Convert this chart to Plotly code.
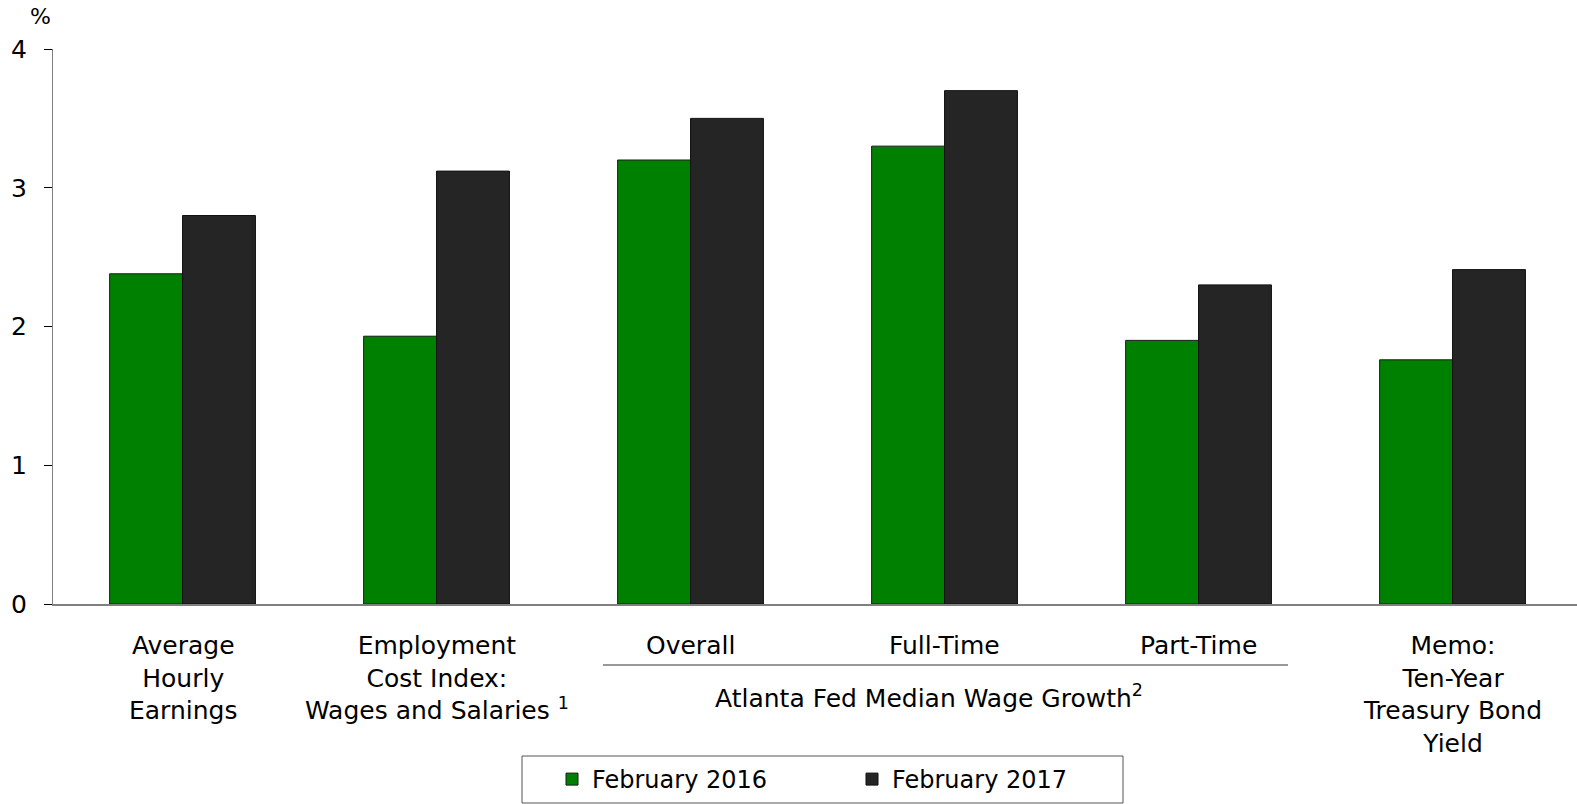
import plotly.graph_objects as go

# Category positions and labels drawn beneath the bars
categories = ["Average Hourly Earnings", "Employment Cost Index", "Overall",
              "Full-Time", "Part-Time", "Ten-Year Treasury Bond Yield"]
category_labels = ["Average<br>Hourly<br>Earnings",
                   "Employment<br>Cost Index:<br>Wages and Salaries <sup>1</sup>",
                   "Overall", "Full-Time", "Part-Time",
                   "Memo:<br>Ten-Year<br>Treasury Bond<br>Yield"]

# Year-over-year growth, percent
feb_2016 = [2.38, 1.93, 3.20, 3.30, 1.90, 1.76]
feb_2017 = [2.80, 3.12, 3.50, 3.70, 2.30, 2.41]

y_ticks = [0, 1, 2, 3, 4]

FONT = "DejaVu Sans"
W, H = 1577, 804
L, R, T, B = 53, 0, 49, 200
plot_h = H - T - B
plot_w = W - L - R
axis_y = T + plot_h  # pixel row of the zero line
X_RANGE = [-0.51, 5.49]


def px_x(px):
    """Horizontal pixel -> paper fraction."""
    return (px - L) / plot_w


def px_y(py):
    """Vertical pixel (from top) -> paper fraction."""
    return (axis_y - py) / plot_h


def px_cat(px):
    """Horizontal pixel -> category-axis coordinate."""
    return (px - L) / plot_w * (X_RANGE[1] - X_RANGE[0]) + X_RANGE[0]


fig = go.Figure()
fig.add_trace(go.Bar(x=categories, y=feb_2016, name="February 2016",
                     marker=dict(color="#008000", line=dict(color="#1a1a1a", width=1))))
fig.add_trace(go.Bar(x=categories, y=feb_2017, name="February 2017",
                     marker=dict(color="#252525", line=dict(color="#111111", width=1))))

fig.update_layout(
    width=W, height=H,
    margin=dict(l=L, r=R, t=T, b=B, pad=0, autoexpand=False),
    paper_bgcolor="white", plot_bgcolor="white",
    barmode="group", bargap=0.426, bargroupgap=0,
    font=dict(family=FONT, size=24, color="black"),
    showlegend=True,
    legend=dict(orientation="h", xref="container", x=552 / W, xanchor="left",
                yref="container", y=(H - 757) / H, yanchor="top",
                borderwidth=0, bgcolor="rgba(0,0,0,0)",
                font=dict(family=FONT, size=24), entrywidth=255,
                traceorder="normal"),
)

fig.update_xaxes(showticklabels=False, ticks="", showgrid=False,
                 showline=True, linecolor="#808080", linewidth=2,
                 range=X_RANGE)
fig.update_yaxes(range=[0, 4], tickvals=y_ticks, ticks="outside", ticklen=8,
                 tickcolor="black", showgrid=False, zeroline=False,
                 showline=True, linecolor="#808080", linewidth=1,
                 tickfont=dict(family=FONT, size=25), ticklabelstandoff=12)

# Legend frame
fig.add_shape(type="rect", xref="paper", yref="paper",
              x0=px_x(522), x1=px_x(1123), y0=px_y(756), y1=px_y(803),
              line=dict(color="#555555", width=1), fillcolor="rgba(0,0,0,0)")

# Category labels
for cat, lab in zip(categories, category_labels):
    fig.add_annotation(x=cat, xref="x", y=0, yref="paper", yanchor="top",
                       yshift=-25, text=lab, showarrow=False,
                       font=dict(family=FONT, size=25), align="center")

# Bracket for the Atlanta Fed group
fig.add_shape(type="line", xref="x", yref="paper", x0=px_cat(603), x1=px_cat(1288),
              y0=px_y(665), y1=px_y(665), line=dict(color="#333333", width=1))
fig.add_annotation(x=px_cat(929), xref="x", y=px_y(678), yref="paper", yanchor="top",
                   text="Atlanta Fed Median Wage Growth<sup>2</sup>", showarrow=False,
                   font=dict(family=FONT, size=25))

# Unit label
fig.add_annotation(xref="paper", x=px_x(40), xanchor="center",
                   y=1, yref="paper", yanchor="bottom", yshift=18,
                   text="%", showarrow=False, font=dict(family=FONT, size=22))

fig.write_html("out.html")
